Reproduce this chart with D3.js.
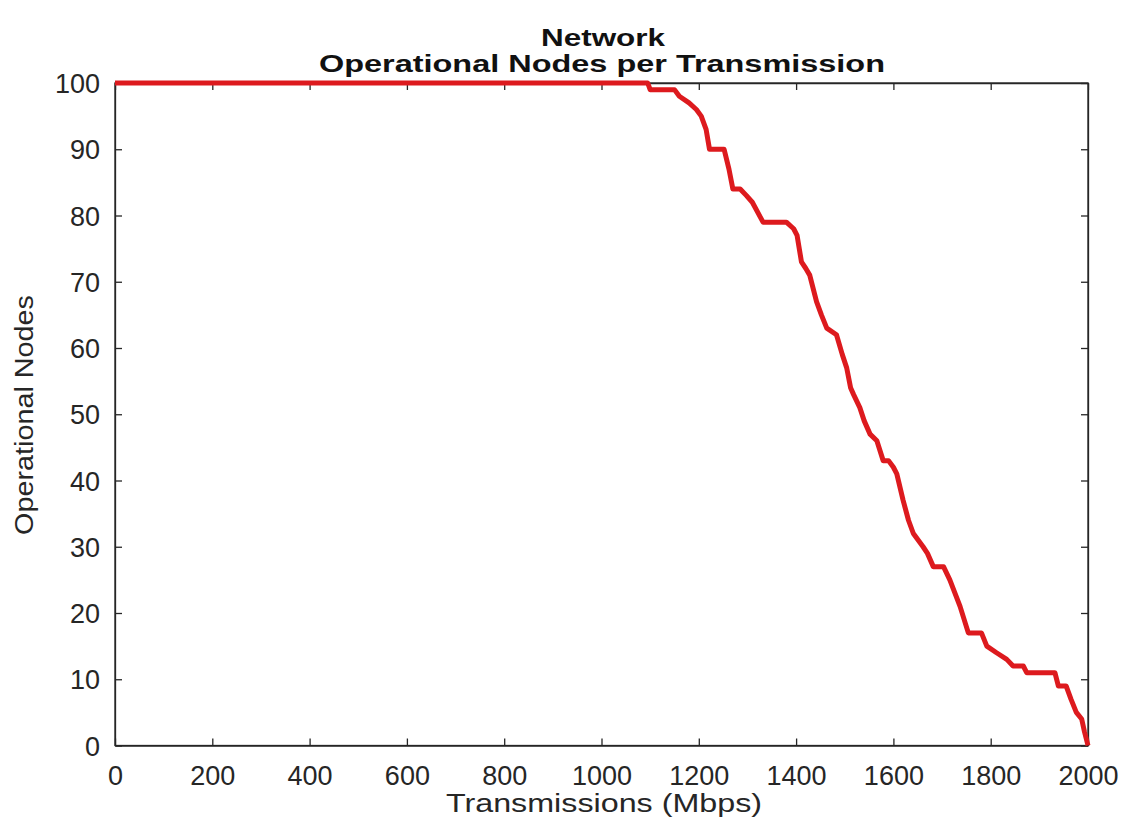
<!DOCTYPE html>
<html>
<head>
<meta charset="utf-8">
<script src="https://cdn.jsdelivr.net/npm/d3@7"></script>
<style>
  body { margin: 0; background: #fff; }
  text { font-family: "Liberation Sans", Arial, sans-serif; }
</style>
</head>
<body>
<svg id="chart" width="1126" height="833"></svg>
<script>
const transmissions = [0, 1095, 1100, 1150, 1160, 1180, 1195, 1205, 1215, 1222, 1252, 1262, 1270, 1285, 1298, 1310, 1332, 1380, 1395, 1402, 1411, 1420, 1428, 1442, 1452, 1463, 1483, 1495, 1504, 1512, 1518, 1531, 1540, 1552, 1566, 1579, 1590, 1600, 1607, 1620, 1631, 1641, 1661, 1670, 1682, 1703, 1716, 1737, 1754, 1781, 1792, 1812, 1833, 1846, 1867, 1874, 1932, 1939, 1955, 1965, 1976, 1987, 1993, 2000];
const operationalNodes = [100, 100, 99, 99, 98, 97, 96, 95, 93, 90, 90, 87, 84, 84, 83, 82, 79, 79, 78, 77, 73, 72, 71, 67, 65, 63, 62, 59, 57, 54, 53, 51, 49, 47, 46, 43, 43, 42, 41, 37, 34, 32, 30, 29, 27, 27, 25, 21, 17, 17, 15, 14, 13, 12, 12, 11, 11, 9, 9, 7, 5, 4, 2, 0];
const xTicks = [0, 200, 400, 600, 800, 1000, 1200, 1400, 1600, 1800, 2000];
const yTicks = [0, 10, 20, 30, 40, 50, 60, 70, 80, 90, 100];
const titleLines = ["Network", "Operational Nodes per Transmission"];
const xLabel = "Transmissions (Mbps)";
const yLabel = "Operational Nodes";

const svg = d3.select("#chart");
const L = 115, R = 1088, T = 83, B = 745.5;
const x = d3.scaleLinear().domain([0, 2000]).range([L, R]);
const y = d3.scaleLinear().domain([0, 100]).range([B, T]);
const axisColor = "#262626";
const tickLen = 7;

svg.append("rect").attr("x", L).attr("y", T).attr("width", R - L).attr("height", B - T)
  .attr("fill", "none").attr("stroke", axisColor).attr("stroke-width", 1.3);

const fs = "27px";
const gBottom = svg.append("g").attr("transform", `translate(0,${B})`)
  .call(d3.axisBottom(x).tickValues(xTicks).tickSizeInner(-tickLen).tickSizeOuter(0).tickPadding(20).tickFormat(d3.format("d")));
const gTop = svg.append("g").attr("transform", `translate(0,${T})`)
  .call(d3.axisTop(x).tickValues(xTicks).tickSizeInner(-tickLen).tickSizeOuter(0).tickFormat(""));
const gLeft = svg.append("g").attr("transform", `translate(${L},0)`)
  .call(d3.axisLeft(y).tickValues(yTicks).tickSizeInner(-tickLen).tickSizeOuter(0).tickPadding(15).tickFormat(d3.format("d")));
const gRight = svg.append("g").attr("transform", `translate(${R},0)`)
  .call(d3.axisRight(y).tickValues(yTicks).tickSizeInner(-tickLen).tickSizeOuter(0).tickFormat(""));
[gBottom, gTop, gLeft, gRight].forEach(g => {
  g.select(".domain").attr("stroke", axisColor).attr("stroke-width", 1.3);
  g.selectAll(".tick line").attr("stroke", axisColor).attr("stroke-width", 1.3);
  g.selectAll(".tick text").attr("fill", axisColor).style("font-size", fs)
    .style("font-family", "'Liberation Sans', Arial, sans-serif");
});
gLeft.selectAll(".tick text").attr("dy", "0.36em");

const line = d3.line().x((d, i) => x(transmissions[i])).y(d => y(d));
svg.append("path").datum(operationalNodes)
  .attr("d", line)
  .attr("fill", "none")
  .attr("stroke", "#dd1a1e")
  .attr("stroke-width", 5)
  .attr("stroke-linejoin", "round");

svg.append("text").attr("x", 603).attr("y", 46).attr("text-anchor", "middle")
  .attr("font-weight", "bold").attr("font-size", 23).attr("fill", "#111")
  .attr("textLength", 124).attr("lengthAdjust", "spacingAndGlyphs").text(titleLines[0]);
svg.append("text").attr("x", 602).attr("y", 72).attr("text-anchor", "middle")
  .attr("font-weight", "bold").attr("font-size", 23).attr("fill", "#111")
  .attr("textLength", 566).attr("lengthAdjust", "spacingAndGlyphs").text(titleLines[1]);

svg.append("text").attr("x", 604).attr("y", 812).attr("text-anchor", "middle")
  .attr("font-size", 25).attr("fill", axisColor)
  .attr("textLength", 316).attr("lengthAdjust", "spacingAndGlyphs").text(xLabel);
svg.append("text").attr("transform", `translate(33,415) rotate(-90)`)
  .attr("text-anchor", "middle").attr("font-size", 26).attr("fill", axisColor)
  .attr("textLength", 240).attr("lengthAdjust", "spacingAndGlyphs").text(yLabel);
</script>
</body>
</html>
